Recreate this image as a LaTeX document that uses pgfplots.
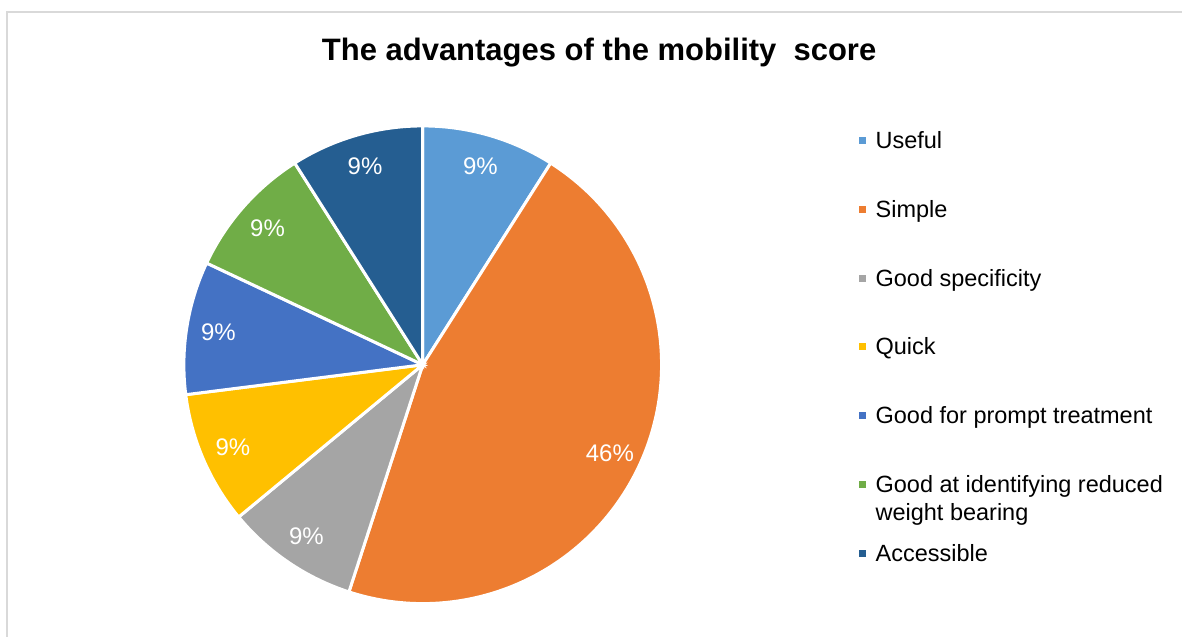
\documentclass[border=0pt]{standalone}
\usepackage{pgfplots}
\pgfplotsset{compat=1.18}
\usepackage{fontspec}
\setmainfont{Liberation Sans}
\definecolor{c1}{HTML}{5B9BD5}
\definecolor{c2}{HTML}{ED7D31}
\definecolor{c3}{HTML}{A5A5A5}
\definecolor{c4}{HTML}{FFC000}
\definecolor{c5}{HTML}{4472C4}
\definecolor{c6}{HTML}{70AD47}
\definecolor{c7}{HTML}{255E91}
\definecolor{frame}{HTML}{D9D9D9}
\begin{document}
\begin{tikzpicture}
\begin{axis}[
  hide axis, scale only axis, width=1183pt, height=637pt,
  xmin=0, xmax=1183, ymin=0, ymax=637, clip=false,
  legend image code/.code={\fill[#1,draw=none] (0pt,-1pt) rectangle (7pt,6pt);},
  legend cell align=left,
  legend style={at={(axis cs:859,505)}, anchor=north west, draw=none, fill=none,
    inner sep=0pt, row sep=48pt,
    font=\fontsize{23.5}{28}\selectfont,
    nodes={inner sep=0pt, text height=16pt, text depth=5pt},
    /tikz/every odd column/.append style={column sep=10pt}},
]
\path (axis cs:0,0) rectangle (axis cs:1183,637);
\draw[frame, line width=1.5pt] (axis cs:7,0) -- (axis cs:7,625) -- (axis cs:1183,625);
\node[font=\fontsize{31}{36}\selectfont\bfseries, anchor=base] at (axis cs:599.5,576) {The advantages of the mobility\ \ score};
\xdef\cum{0}
\foreach \v/\c/\n in {9/c1/Useful, 46/c2/Simple, 9/c3/Good specificity, 9/c4/Quick, 9/c5/Good for prompt treatment, 9/c6/{\parbox[t]{300pt}{Good at identifying reduced\\weight bearing}}, 9/c7/Accessible}{
  \pgfmathsetmacro\a{90-3.6*\cum}
  \pgfmathsetmacro\newcum{\cum+\v}
  \xdef\cum{\newcum}
  \pgfmathsetmacro\b{90-3.6*\cum}
  \pgfmathsetmacro\m{(\a+\b)/2}
  \pgfmathsetmacro\lx{423+207*cos(\m)}
  \pgfmathsetmacro\ly{272+207*sin(\m)}
  \edef\tmp{\noexpand\addplot[fill=\c, draw=white, line width=3pt, domain=\b:\a, samples=120, variable=\noexpand\t] ({423+239*cos(\noexpand\t)},{272+239*sin(\noexpand\t)}) -- (axis cs:423,272) -- cycle;}
  \tmp
  \expandafter\addlegendentry\expandafter{\n}
  \edef\tmp{\noexpand\node[font=\noexpand\fontsize{24}{28}\noexpand\selectfont, text=white] at (axis cs:\lx,\ly) {\v\noexpand\%};}
  \tmp
}
\end{axis}
\end{tikzpicture}
\end{document}
